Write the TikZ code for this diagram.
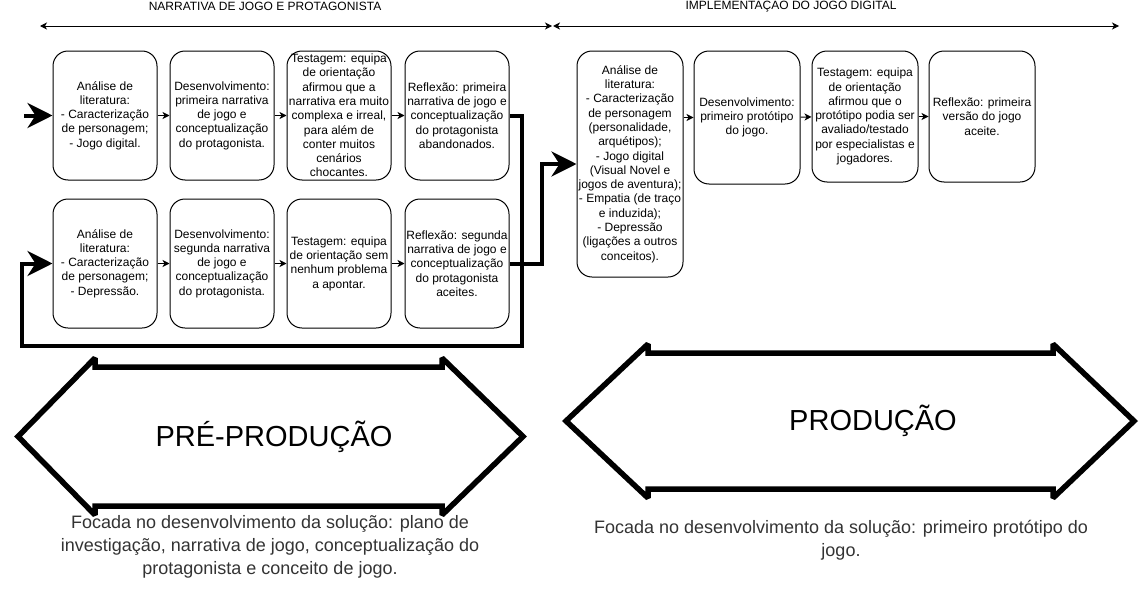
\documentclass[tikz,border=0pt]{standalone}
\usepackage{fontspec}
\setmainfont{Liberation Sans}
\usetikzlibrary{arrows.meta}
\newcommand{\phaseshape}[6]
{\draw [phase] (#1,{(#5+#6)/2}) -- (#2,#5-9) -- (#2,#5) -- (#3,#5) -- (#3,#5-9) -- (#4,{(#5+#6)/2})
		-- (#3,#6+9) -- (#3,#6) -- (#2,#6) -- (#2,#6+9) -- cycle;
}

\begin{document}
\begin{tikzpicture}[x={(1pt,0)},y={(0,-1pt)},>={Stealth[length=7pt,width=7pt,inset=2pt]},
	box/.style={draw,line width=1pt,rounded corners=15pt,align=center,inner sep=0pt,
		minimum width=104pt,minimum height=129pt,font=\fontsize{12}{14.3}\selectfont},
	flow/.style={->,line width=1pt},
	bigflow/.style={line width=4pt,line join=miter,-{Stealth[length=25pt,width=25pt,inset=8pt]}},
	phase/.style={line width=5.5pt,line join=miter,miter limit=2},
	title/.style={font=\fontsize{12}{14}\selectfont},
	phasenote/.style={align=center,text=black!80,font=\fontsize{18}{23}\selectfont}]

\useasboundingbox (0,0) rectangle (1140,597);

\begin{scope}
	\node [title] (tnarr) at (265,6) {NARRATIVA DE JOGO E PROTAGONISTA};
	\coordinate (ta) at (40,26);
	\coordinate (tb) at (552,26);
	\draw [<->,line width=1pt] (ta) -- (tb);

	\node [box] (pa1) at (105,115.5) {Análise de\\literatura:\\- Caracterização\\de personagem;\\- Jogo digital.};
	\node [box] (pa2) at (222,115.5) {Desenvolvimento:\\primeira narrativa\\de jogo e\\conceptualização\\do protagonista.};
	\node [box] (pa3) at (339,115.5) {Testagem: equipa\\de orientação\\afirmou que a\\narrativa era muito\\complexa e irreal,\\para além de\\conter muitos\\cenários\\chocantes.};
	\node [box] (pa4) at (457,115.5) {Reflexão: primeira\\narrativa de jogo e\\conceptualização\\do protagonista\\abandonados.};

	\node [box] (pb1) at (105,263.5) {Análise de\\literatura:\\- Caracterização\\de personagem;\\- Depressão.};
	\node [box] (pb2) at (222,263.5) {Desenvolvimento:\\segunda narrativa\\de jogo e\\conceptualização\\do protagonista.};
	\node [box] (pb3) at (339,263.5) {Testagem: equipa\\de orientação sem\\nenhum problema\\a apontar.};
	\node [box] (pb4) at (457,263.5) {Reflexão: segunda\\narrativa de jogo e\\conceptualização\\do protagonista\\aceites.};

	\draw [flow] (pa1) -- (pa2);
	\draw [flow] (pa2) -- (pa3);
	\draw [flow] (pa3) -- (pa4);
	\draw [flow] (pb1) -- (pb2);
	\draw [flow] (pb2) -- (pb3);
	\draw [flow] (pb3) -- (pb4);

	\coordinate (start) at (24,115.5);
	\coordinate (turna) at (522,346);
	\coordinate (turnb) at (22,346);
	\draw [bigflow] (start) -- (pa1.west);
	\draw [bigflow] (pa4.east) -| (turna) -- (turnb) |- (pb1.west);

	\phaseshape{18}{95}{442}{523}{367}{506}
	\node [font=\fontsize{29}{34}\selectfont] (pre) at (274,437) {PRÉ-PRODUÇÃO};
	\node [phasenote] (prenote) at (270,547) {Focada no desenvolvimento da solução: plano de\\investigação, narrativa de jogo, conceptualização do\\protagonista e conceito de jogo.};
\end{scope}

\begin{scope}
	\node [title] (timpl) at (791,6) {IMPLEMENTAÇÃO DO JOGO DIGITAL};
	\coordinate (tc) at (553,26);
	\coordinate (td) at (1119,26);
	\draw [<->,line width=1pt] (tc) -- (td);

	\node [box,minimum width=106pt,minimum height=226pt] (im1) at (630,164) {Análise de\\literatura:\\- Caracterização\\de personagem\\(personalidade,\\arquétipos);\\- Jogo digital\\(Visual Novel e\\jogos de aventura);\\- Empatia (de traço\\e induzida);\\- Depressão\\(ligações a outros\\conceitos).};
	\node [box,minimum width=106pt,minimum height=133pt] (im2) at (747,117.5) {Desenvolvimento:\\primeiro protótipo\\do jogo.};
	\node [box,minimum width=106pt,minimum height=131pt] (im3) at (865,116.5) {Testagem: equipa\\de orientação\\afirmou que o\\protótipo podia ser\\avaliado/testado\\por especialistas e\\jogadores.};
	\node [box,minimum width=106pt,minimum height=131pt] (im4) at (982,116.5) {Reflexão: primeira\\versão do jogo\\aceite.};

	\draw [flow] (im2.west -| im1.east) -- (im2.west);
	\draw [flow] (im2) -- (im3);
	\draw [flow] (im3) -- (im4);

	\coordinate (turnc) at (542,164);
	\draw [bigflow] (pb4.east) -| (turnc) -- (im1.west);

	\phaseshape{566}{648}{1053}{1134}{353}{489}
	\node [font=\fontsize{29}{34}\selectfont] (prod) at (873,421) {PRODUÇÃO};
	\node [phasenote] (prodnote) at (841,540) {Focada no desenvolvimento da solução: primeiro protótipo do\\jogo.};
\end{scope}

\end{tikzpicture}
\end{document}
